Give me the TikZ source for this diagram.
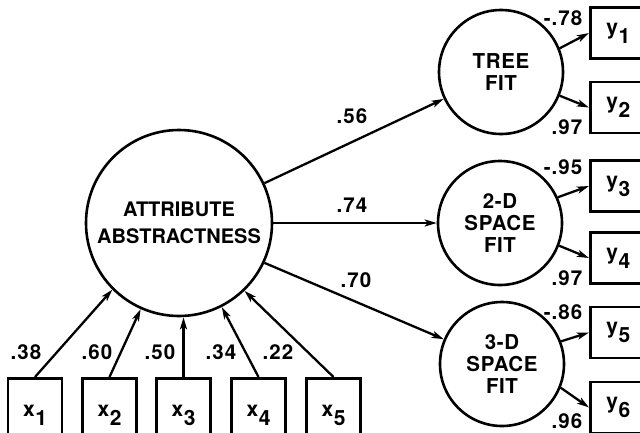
\documentclass[tikz,border=0pt]{standalone}
\usepackage{fontspec}
\setmainfont{TeX Gyre Heros}
\usetikzlibrary{arrows.meta}
\tikzset{
  lat/.style={circle, draw, line width=2.6pt, inner sep=0pt, align=center},
  bigfont/.style={font=\fontsize{20}{27}\selectfont\bfseries},
  smallfont/.style={font=\fontsize{20.5}{22}\selectfont\bfseries\addfontfeatures{LetterSpace=3}},
  xbox/.style={draw, line width=2.6pt, minimum width=54pt, minimum height=58pt, inner sep=0pt, anchor=north, font=\fontsize{21}{24}\selectfont\bfseries, text depth=0pt},
  ybox/.style={draw, line width=2.6pt, minimum width=56pt, minimum height=51pt, inner sep=0pt, anchor=west, font=\fontsize{21}{24}\selectfont\bfseries},
  coef/.style={inner sep=0pt, font=\fontsize{20.5}{22}\selectfont\bfseries\addfontfeatures{LetterSpace=5}},
  arr/.style={line width=2.3pt, -{Stealth[length=12pt,width=7pt,inset=3pt]}},
}
\newcommand{\subv}[2]{#1\kern0.5pt\raisebox{-9pt}{#2}}
\begin{document}
\begin{tikzpicture}[x=1pt,y=-1pt]
\clip (0,0) rectangle (640,432);
% latent variables
\node[lat, bigfont, minimum size=186pt] (A) at (179,223) {ATTRIBUTE\\ABSTRACTNESS};
\node[lat, smallfont, minimum size=124pt] (T) at (501,72) {TREE\\FIT};
\node[lat, smallfont, minimum size=124pt] (S2) at (500,223) {2-D\\SPACE\\FIT};
\node[lat, smallfont, minimum size=124pt] (S3) at (502,364) {3-D\\SPACE\\FIT};
% x boxes
\node[xbox] (x1) at (35,377) {\raisebox{-8pt}{\subv{x}{1}}};
\node[xbox] (x2) at (109.5,377) {\raisebox{-8pt}{\subv{x}{2}}};
\node[xbox] (x3) at (183.5,377) {\raisebox{-8pt}{\subv{x}{3}}};
\node[xbox] (x4) at (258.5,377) {\raisebox{-8pt}{\subv{x}{4}}};
\node[xbox] (x5) at (333.5,377) {\raisebox{-8pt}{\subv{x}{5}}};
% y boxes
\node[ybox] (y1) at (589,33) {\subv{y}{1}};
\node[ybox] (y2) at (589,107.5) {\subv{y}{2}};
\node[ybox] (y3) at (589,186) {\subv{y}{3}};
\node[ybox] (y4) at (589,258) {\subv{y}{4}};
\node[ybox] (y5) at (589,332.5) {\subv{y}{5}};
\node[ybox] (y6) at (589,407.5) {\subv{y}{6}};
% paths
\draw[arr] (A.25) -- (T);
\draw[arr] (A) -- (S2);
\draw[arr] (A.-25) -- (S3);
\draw[arr] (x1.north) -- (A.225);
\draw[arr] (x2.north) -- (A.246);
\draw[arr] (x3.north) -- (x3.north |- A.south);
\draw[arr] (x4.north) -- (A.297);
\draw[arr] (x5.north) -- (A.314);
\draw[arr] (T.22) -- (y1.west);
\draw[arr] (T.-22) -- (y2.west);
\draw[arr] (S2.24) -- (y3.west);
\draw[arr] (S2.-21) -- (y4.west);
\draw[arr] (S3.21) -- (y5.west);
\draw[arr] (S3.-22) -- (y6.west);
% coefficients
\node[coef] (c56) at (352,116) {.56};
\node[coef] (c74) at (352,205) {.74};
\node[coef] (c70) at (356,280) {.70};
\node[coef] (c38) at (26,352) {.38};
\node[coef] (c60) at (97,352) {.60};
\node[coef] (c50) at (160,352) {.50};
\node[coef] (c34) at (221,352) {.34};
\node[coef] (c22) at (278,352) {.22};
\node[coef] (c78) at (563,18) {-.78};
\node[coef] (c97a) at (567,127) {.97};
\node[coef] (c95) at (563,167) {-.95};
\node[coef] (c97b) at (567,278) {.97};
\node[coef] (c86) at (563,312) {-.86};
\node[coef] (c96) at (567,421) {.96};
\end{tikzpicture}
\end{document}
